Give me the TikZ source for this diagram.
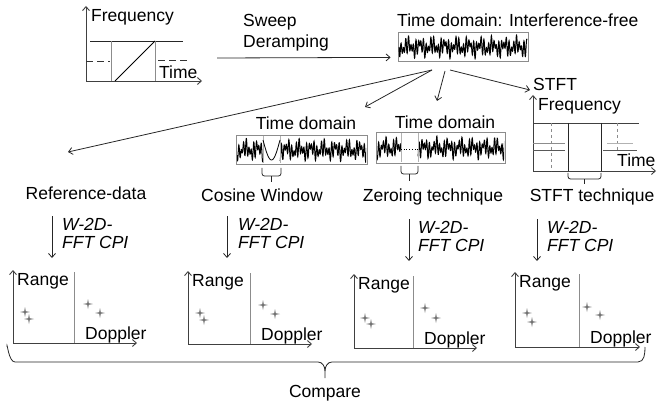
\documentclass[tikz,border=0pt]{standalone}
\usepackage{fontspec}
\setmainfont{Liberation Sans}
\usetikzlibrary{arrows.meta}
\newcommand\mywave[6]{% x0, width, yc, h, phase, samples
  \draw[wave] plot[domain=0:#2,samples=#6] ({#1+\x},{#3+#4*(0.45*sin(mod(\x*2.5,6.28318) r+#5)+0.3*sin(mod(\x*1.75,6.28318) r+2*#5)+0.25*sin(mod(\x*0.52,6.28318) r+#5))});}
\newcommand\spark[2]{\fill[sparkle] (#1,#2) +(0,-5) -- +(0.8,-0.8) -- +(5,0) -- +(0.8,0.8) -- +(0,5) -- +(-0.8,0.8) -- +(-5,0) -- +(-0.8,-0.8) -- cycle;}
\newcommand\rchart[6]{% name, ox, oy, ytop, vline x, xend
  \draw[axis] (#2,#3) -- (#2,#4);
  \draw[axis] (#2,#3) -- (#6,#3);
  \draw[gline] (#5,#4+2) -- (#5,#3);
  \node[lbl,anchor=west] (#1r) at (#2+4,#4+11) {Range};
  \node[lbl,anchor=west] (#1d) at (#5+11,#3-8) {Doppler};
}
\begin{document}
\begin{tikzpicture}[x=1pt,y=-1pt,
  lbl/.style={font=\fontsize{17.5}{21}\selectfont, inner sep=0pt},
  ilbl/.style={font=\fontsize{17.5}{21}\selectfont\itshape, inner sep=0pt},
  conn/.style={-{Straight Barb[length=4pt,width=7pt]}, line width=0.8pt, black!85},
  axis/.style={-{Straight Barb[length=4pt,width=7pt]}, line width=0.9pt, black!75},
  gline/.style={line width=0.6pt, black!45},
  wbox/.style={draw=black!45, line width=0.8pt, inner sep=0pt},
  wave/.style={line width=1pt, black},
  sparkle/.style={fill=black!55},
  brc/.style={line width=0.8pt, black!85, rounded corners=2.5pt},
  ]
\useasboundingbox (0,0) rectangle (658,406);

% ---------- top-left chirp chart ----------
\draw[axis] (86,81) -- (86,6);
\draw[axis] (86,81) -- (202,81);
\draw[line width=0.8pt, black!85] (90,41) -- (183,41);
\draw[gline] (111,41) -- (111,81);
\draw[gline] (155,41) -- (155,81);
\draw[line width=0.9pt] (115,81) -- (155,41);
\draw[line width=0.8pt, black!80, dash pattern=on 7pt off 4pt] (86,61) -- (110,61);
\draw[line width=0.8pt, black!80, dash pattern=on 7pt off 4pt] (158,60) -- (190,60);
\node[lbl,anchor=west] (freq1) at (91,17) {Frequency};
\node[lbl,anchor=west] (time1) at (159,72) {Time};

\node[lbl,anchor=west] (sweep) at (243,22) {Sweep};
\node[lbl,anchor=west] (deramp) at (243,43) {Deramping};

% ---------- interference-free time domain ----------
\node[lbl,anchor=west] (tdif) at (397,20) {Time domain: Interference-free};
\node[wbox, minimum width=130pt, minimum height=29pt] (box0) at (463,46.5) {};
\begin{scope}
  \clip (398,33) rectangle (528,60);
  \mywave{399}{128}{47}{12}{0}{800}
\end{scope}
\coordinate (sws) at (217,58);
\draw[conn] (sws) -- ([shift={(-7,-4)}]box0.south west);

% fan-out
\coordinate (fa) at (432,70);
\coordinate (fb) at (445,71);
\coordinate (fc) at (450,70);
\coordinate (ea) at (68,152);
\coordinate (eb) at (365,107);
\coordinate (ec) at (437,101);
\coordinate (ed) at (530,90);
\draw[conn] (fa) -- (ea);
\draw[conn] (fa) -- (eb);
\draw[conn] (fb) -- (ec);
\draw[conn] (fc) -- (ed);

% ---------- cosine window ----------
\node[lbl] (tdc) at (306,123) {Time domain};
\node[wbox, minimum width=131pt, minimum height=29pt] (box1) at (301.5,149.5) {};
\begin{scope}
  \clip (237,136) rectangle (366,163);
  \mywave{237}{26}{150}{12}{20}{170}
  \mywave{280}{87}{150}{12}{60}{540}
\end{scope}
\draw[gline, black!30] (263,136) -- (263,163);
\draw[gline, black!30] (280,136) -- (280,163);
\draw[line width=0.8pt] plot[domain=0:17,samples=30] ({263+\x},{140+20*sin(\x*180/17)});
\draw[brc] (262,168) |- (271.5,176);
\draw[brc] (281,168) |- (271.5,176);
\draw[line width=0.8pt, black!85] (271.5,176) -- (271.5,182);
\node[lbl] (cosw) at (262,195) {Cosine Window};

% ---------- zeroing ----------
\node[lbl] (tdz) at (445,122) {Time domain};
\node[wbox, minimum width=129pt, minimum height=31pt] (box2) at (440.5,147.5) {};
\begin{scope}
  \clip (377,133) rectangle (504,162);
  \mywave{377}{24}{148}{12}{40}{160}
  \mywave{418}{87}{148}{12}{90}{540}
\end{scope}
\draw[gline, black!30] (401,133) -- (401,162);
\draw[gline, black!30] (418,133) -- (418,162);
\draw[line width=0.7pt, dotted] (401,149) -- (418,149);
\draw[brc] (401,166) |- (409.5,174);
\draw[brc] (418,166) |- (409.5,174);
\draw[line width=0.8pt, black!85] (409.5,174) -- (409.5,181);
\node[lbl] (zero) at (433,197) {Zeroing technique};

% ---------- STFT ----------
\node[lbl,anchor=west] (stft) at (533,84) {STFT};
\draw[axis] (533,171) -- (533,95);
\draw[axis] (533,171) -- (656,171);
\draw[line width=0.8pt, black!75] (533,123) -- (639,123);
\draw[line width=0.8pt, black!85] (568,123) -- (568,171);
\draw[line width=0.8pt, black!85] (601,123) -- (601,171);
\draw[gline, dashed] (551,123) -- (551,171);
\draw[gline, dashed] (617,123) -- (617,150);
\draw[gline] (533,143) -- (565,143);
\draw[line width=0.6pt, black!65] (533,150) -- (565,150);
\draw[gline, black!30] (607,143) -- (633,143);
\draw[line width=0.6pt, black!65] (603,150) -- (637,150);
\node[lbl,anchor=west] (freq2) at (538,106) {Frequency};
\node[lbl,anchor=west] (time2) at (617,160) {Time};
\draw[brc] (568,173) |- (584.5,179);
\draw[brc] (601,173) |- (584.5,179);
\draw[line width=0.8pt, black!85] (584.5,179) -- (584.5,184);
\node[lbl] (stftt) at (592,197) {STFT technique};

\node[lbl] (refd) at (86,193) {Reference-data};

% ---------- processing arrows ----------
\coordinate (d1s) at (52,216); \coordinate (d1e) at (52,258);
\coordinate (d2s) at (227,216); \coordinate (d2e) at (227,258);
\coordinate (d3s) at (409,219); \coordinate (d3e) at (409,261);
\coordinate (d4s) at (537,219); \coordinate (d4e) at (537,261);
\draw[conn] (d1s) -- (d1e);
\draw[conn] (d2s) -- (d2e);
\draw[conn] (d3s) -- (d3e);
\draw[conn] (d4s) -- (d4e);
\node[ilbl,anchor=west] (w1) at (62,224) {W-2D-};
\node[ilbl,anchor=west] (c1) at (62,242) {FFT CPI};
\node[ilbl,anchor=west] (w2) at (238,224) {W-2D-};
\node[ilbl,anchor=west] (c2) at (238,242) {FFT CPI};
\node[ilbl,anchor=west] (w3) at (418,227) {W-2D-};
\node[ilbl,anchor=west] (c3) at (418,245) {FFT CPI};
\node[ilbl,anchor=west] (w4) at (547,227) {W-2D-};
\node[ilbl,anchor=west] (c4) at (547,245) {FFT CPI};

% ---------- range-doppler charts ----------
\rchart{ra}{13}{343}{270}{74}{137}
\rchart{rb}{188}{344}{271}{250}{312}
\rchart{rc}{354}{348}{274}{413}{477}
\rchart{rd}{515}{347}{272}{579}{640}
\spark{25}{312}\spark{29}{319}\spark{88}{304}\spark{100}{313}
\spark{200}{313}\spark{204}{320}\spark{263}{305}\spark{275}{314}
\spark{365}{318}\spark{371}{324}\spark{425}{308}\spark{436}{318}
\spark{527}{313}\spark{532}{322}\spark{587}{307}\spark{600}{315}

% ---------- compare brace ----------
\draw[line width=0.8pt, black!85] (7,347) to[out=90,in=180] (15,362) -- (318,362) to[out=0,in=90] (325,371) -- (325,378);
\draw[line width=0.8pt, black!85] (325,371) to[out=90,in=180] (332,362) -- (638,362) to[out=0,in=-90] (645,347);
\node[lbl] (cmp) at (325,393) {Compare};
\end{tikzpicture}
\end{document}
